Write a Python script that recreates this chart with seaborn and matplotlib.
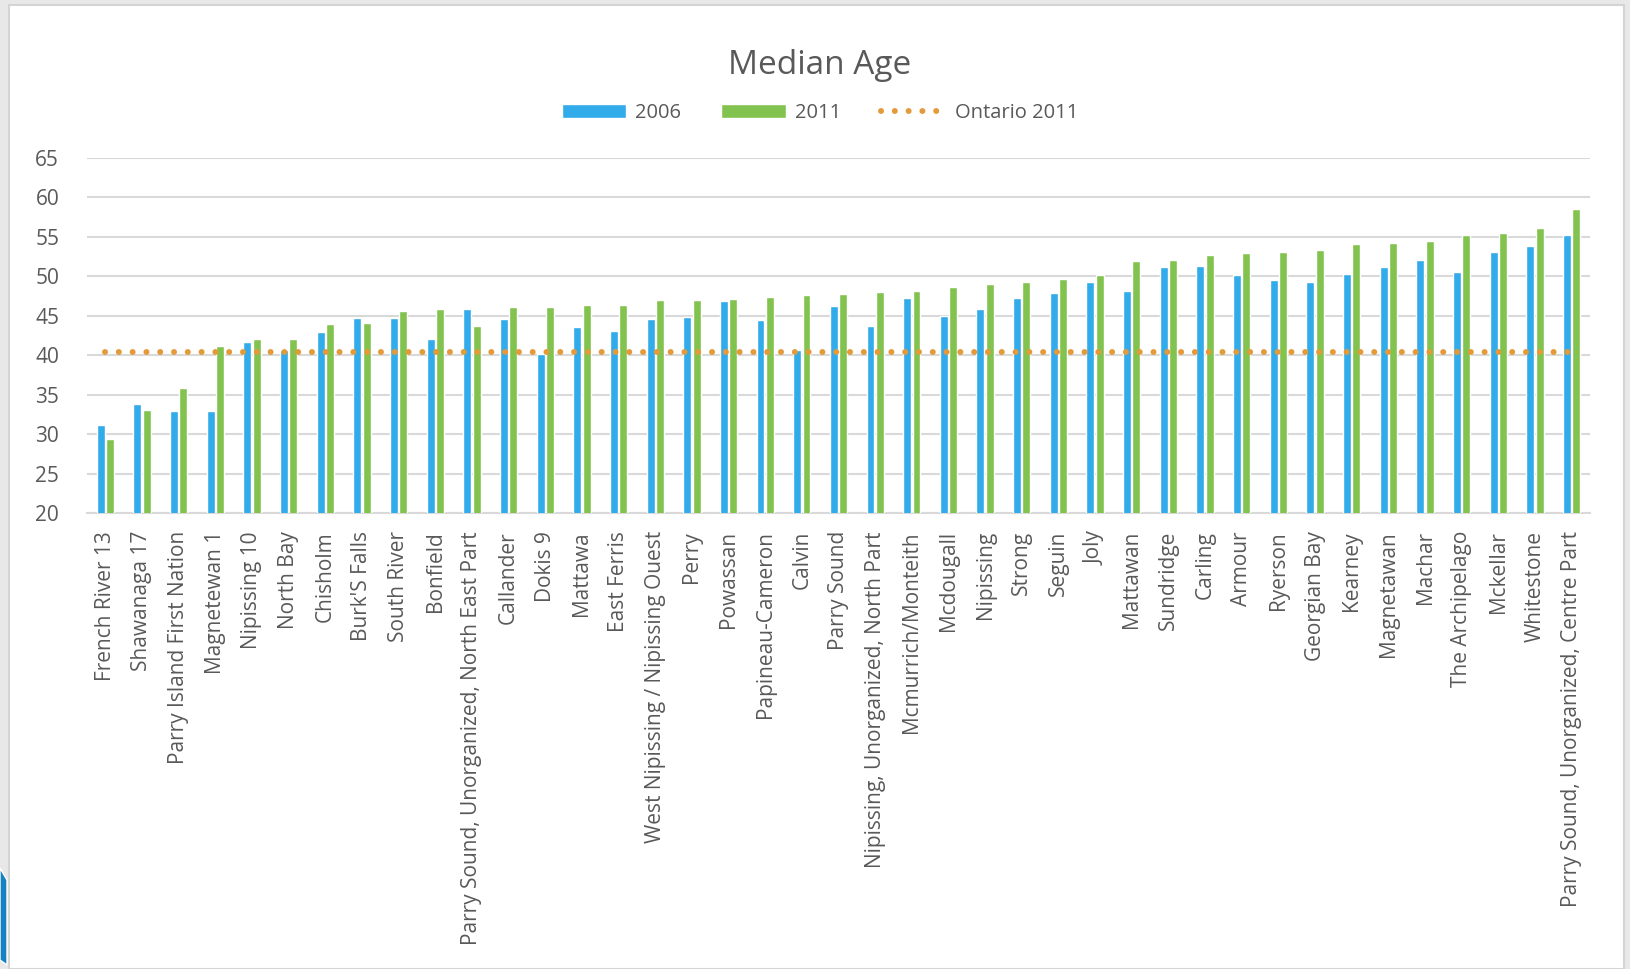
import pandas as pd
import numpy as np
import seaborn as sns
import matplotlib.pyplot as plt
from matplotlib.patches import Rectangle, Polygon, Patch
from matplotlib.lines import Line2D

# datos
places = ["French River 13", "Shawanaga 17", "Parry Island First Nation", "Magnetewan 1",
          "Nipissing 10", "North Bay", "Chisholm", "Burk'S Falls", "South River", "Bonfield",
          "Parry Sound, Unorganized, North East Part", "Callander", "Dokis 9", "Mattawa",
          "East Ferris", "West Nipissing / Nipissing Ouest", "Perry", "Powassan",
          "Papineau-Cameron", "Calvin", "Parry Sound", "Nipissing, Unorganized, North Part",
          "Mcmurrich/Monteith", "Mcdougall", "Nipissing", "Strong", "Seguin", "Joly",
          "Mattawan", "Sundridge", "Carling", "Armour", "Ryerson", "Georgian Bay", "Kearney",
          "Magnetawan", "Machar", "The Archipelago", "Mckellar", "Whitestone",
          "Parry Sound, Unorganized, Centre Part"]
age_2006 = [31.1, 33.8, 32.9, 32.9, 41.6, 40.7, 42.9, 44.7, 44.7, 42.1,
            45.9, 44.6, 40.1, 43.6, 43.1, 44.6, 44.8, 46.9, 44.4, 40.6,
            46.2, 43.7, 47.2, 44.9, 45.8, 47.2, 47.9, 49.2, 48.1, 51.2,
            51.3, 50.1, 49.5, 49.2, 50.3, 51.2, 52.1, 50.5, 53.0, 53.8, 55.2]
age_2011 = [29.4, 33.1, 35.8, 41.1, 42.0, 42.0, 44.0, 44.1, 45.6, 45.8,
            43.7, 46.1, 46.1, 46.3, 46.3, 47.0, 47.0, 47.1, 47.3, 47.6,
            47.7, 48.0, 48.1, 48.6, 49.0, 49.2, 49.6, 50.1, 51.9, 52.1,
            52.7, 52.9, 53.1, 53.3, 54.1, 54.2, 54.5, 55.2, 55.5, 56.1, 58.5]
ontario_2011 = 40.4
years = ["2006", "2011"]
colores = {"2006": "#31ABE9", "2011": "#82C34F"}
naranja = "#E39A3A"
gris = "#595959"

df = pd.DataFrame({
    "place": places * 2,
    "year": [years[0]] * len(places) + [years[1]] * len(places),
    "age": age_2006 + age_2011,
})

sns.set_theme(style="white")
plt.rcParams["font.family"] = ["Open Sans", "DejaVu Sans"]

fig = plt.figure(figsize=(16.3, 9.69), dpi=100, facecolor="#E8E8E8")
# marco blanco de la diapositiva
fig.patches.append(Rectangle((9 / 1630, 0), 1615 / 1630, 964 / 969, transform=fig.transFigure,
                             facecolor="white", edgecolor="#D4D4D4", linewidth=1.5, zorder=-10))
# adorno azul de la esquina
fig.patches.append(Polygon([(0, 1 - 868 / 969), (7 / 1630, 1 - 880 / 969), (7 / 1630, 1 - 965 / 969), (0, 1 - 960 / 969)],
                           closed=True, transform=fig.transFigure, facecolor="#1481C1", zorder=-9))

ax = fig.add_axes([87 / 1630, 1 - 513 / 969, (1590 - 87) / 1630, (513 - 157.7) / 969])
ax.set_facecolor("none")

puntos = (0, (0.01, 2.3))
sns.barplot(data=df, x="place", y="age", hue="year", palette=colores, width=0.51, gap=0.15,
            saturation=1, ax=ax, legend=False, zorder=3)
sns.lineplot(x=np.arange(len(places)), y=[ontario_2011] * len(places), ax=ax, color=naranja,
             linewidth=4.3, linestyle=puntos, dash_capstyle="round", zorder=4)

ax.set_ylim(20, 65)
ax.set_xlim(-0.5, len(places) - 0.5)
ax.set_yticks(range(20, 66, 5))
ax.yaxis.grid(True, color="#D9D9D9", linewidth=1.5, zorder=0)
for s in ["top", "right", "left"]:
    ax.spines[s].set_visible(False)
ax.spines["bottom"].set_color("#D9D9D9")
ax.spines["bottom"].set_linewidth(1.5)
ax.tick_params(axis="both", length=0, colors=gris, labelsize=15)
ax.tick_params(axis="y", pad=20)
ax.tick_params(axis="x", pad=13)
ax.set_xticks(range(len(places)))
ax.set_xticklabels(places, rotation=90, color=gris, fontsize=15)
ax.set_xlabel("")
ax.set_ylabel("")

fig.text(0.503, 1 - 65 / 969, "Median Age", ha="center", va="center", fontsize=24, color=gris)

handles = [Patch(facecolor=colores["2006"]), Patch(facecolor=colores["2011"]),
           Line2D([0], [0], color=naranja, linewidth=4.3, linestyle=puntos, dash_capstyle="round")]
fig.legend(handles, ["2006", "2011", "Ontario 2011"], loc="center", bbox_to_anchor=(0.503, 1 - 113 / 969),
           ncol=3, frameon=False, fontsize=14.5, labelcolor=gris, handlelength=3.2, handleheight=0.75,
           columnspacing=2.0, handletextpad=0.45)

fig.savefig("out.png", dpi=100, facecolor=fig.get_facecolor())
